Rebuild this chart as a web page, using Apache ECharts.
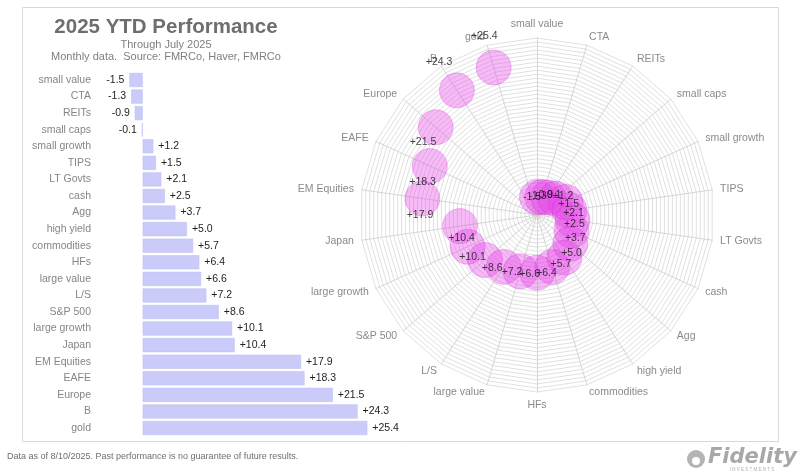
<!DOCTYPE html>
<html>
<head>
<meta charset="utf-8"/>
<title>2025 YTD Performance</title>
<style>
    body { margin: 0; padding: 0; background: #fff; }
    #chart { width: 800px; height: 475px; }
</style>
</head>
<body>
<div id="chart"></div>
<script src="https://cdn.jsdelivr.net/npm/echarts@6/dist/echarts.min.js"></script>
<script>
    // asset classes, same order in the bars (top to bottom) and the web (clockwise from top)
    var categories = ['small value', 'CTA', 'REITs', 'small caps', 'small growth', 'TIPS', 'LT Govts',
        'cash', 'Agg', 'high yield', 'commodities', 'HFs', 'large value', 'L/S', 'S&P 500',
        'large growth', 'Japan', 'EM Equities', 'EAFE', 'Europe', 'B', 'gold'];
    // 2025 YTD total return, %
    var returns = [-1.5, -1.3, -0.9, -0.1, 1.2, 1.5, 2.1, 2.5, 3.7, 5.0, 5.7, 6.4, 6.6, 7.2, 8.6,
        10.1, 10.4, 17.9, 18.3, 21.5, 24.3, 25.4];
    var radialMin = -5, radialMax = 30;

    var FONT = 'Liberation Sans, Arial, sans-serif';
    var webCenter = [537, 215], webRadius = 177;

    function fmt(v) {
        return (v > 0 ? '+' : '') + v.toFixed(1);
    }

    // labels sit a little counter-clockwise of the bubble, the two biggest go outward
    function labelOffset(v, i) {
        var th = i / categories.length * 2 * Math.PI;
        if (v > 24) {
            return [Math.sin(th) * 33, -Math.cos(th) * 33];
        }
        var r = (v - radialMin) / (radialMax - radialMin) * webRadius;
        var d = Math.max(5, 2 + 0.13 * r);
        return [-Math.cos(th) * d, -Math.sin(th) * d];
    }

    // radar lays indicators out counter-clockwise, so feed them reversed after the first
    var indicators = [categories[0]].concat(categories.slice(1).reverse()).map(function (n) {
        return {name: n, min: radialMin, max: radialMax};
    });

    var chart = echarts.init(document.getElementById('chart'));
    var option = {
        backgroundColor: '#fff',
        animation: false,
        textStyle: {fontFamily: FONT},
        graphic: [
            {type: 'rect', shape: {x: 22.5, y: 7.5, width: 756, height: 434},
                style: {fill: null, stroke: '#d9d9d9', lineWidth: 1}},
            {type: 'text', x: 166, y: 27, style: {text: '2025 YTD Performance', fill: '#6e6e6e',
                    font: 'bold 20.5px ' + FONT, align: 'center', verticalAlign: 'middle'}},
            {type: 'text', x: 166, y: 45, style: {text: 'Through July 2025', fill: '#7f7f7f',
                    font: '11px ' + FONT, align: 'center', verticalAlign: 'middle'}},
            {type: 'text', x: 166, y: 57, style: {text: 'Monthly data.  Source: FMRCo, Haver, FMRCo', fill: '#7f7f7f',
                    font: '11px ' + FONT, align: 'center', verticalAlign: 'middle'}},
            {type: 'text', x: 7, y: 457, style: {text: 'Data as of 8/10/2025. Past performance is no guarantee of future results.',
                    fill: '#6e6e6e', font: '9px ' + FONT, verticalAlign: 'middle'}},
            {type: 'circle', shape: {cx: 696, cy: 459, r: 9}, style: {fill: '#b4b4b4'}},
            {type: 'circle', shape: {cx: 696, cy: 461, r: 4}, style: {fill: '#fff'}},
            {type: 'text', x: 708, y: 458, style: {text: 'Fidelity', fill: '#a8a8a8',
                    font: 'italic bold 21px DejaVu Sans, ' + FONT, verticalAlign: 'middle'}},
            {type: 'text', x: 752, y: 470, style: {text: 'I N V E S T M E N T S', fill: '#b0b0b0',
                    font: '4.5px ' + FONT, align: 'center', verticalAlign: 'middle'}}
        ],
        grid: {left: 125, right: 392, top: 71.7, bottom: 38.7, containLabel: false},
        xAxis: {
            type: 'value', min: -2, max: 30, show: false
        },
        yAxis: {
            type: 'category',
            data: categories,
            inverse: true,
            axisLine: {show: false, onZero: false},
            axisTick: {show: false},
            axisLabel: {color: '#858585', fontSize: 10.5, margin: 34}
        },
        radar: {
            center: webCenter,
            radius: webRadius,
            startAngle: 90,
            shape: 'polygon',
            splitNumber: 44,
            indicator: indicators,
            nameGap: 8,
            axisName: {color: '#8a8a8a', fontSize: 10.5, fontFamily: FONT},
            splitArea: {show: false},
            splitLine: {lineStyle: {color: '#d2d2d2', width: 0.7}},
            axisLine: {lineStyle: {color: '#cdcdcd', width: 0.8}},
            axisTick: {show: false},
            axisLabel: {show: false}
        },
        polar: {center: webCenter, radius: webRadius},
        angleAxis: {
            type: 'value', min: 0, max: categories.length, startAngle: 90, clockwise: true,
            axisLine: {show: false}, axisTick: {show: false}, axisLabel: {show: false}, splitLine: {show: false}
        },
        radiusAxis: {
            type: 'value', min: radialMin, max: radialMax,
            axisLine: {show: false}, axisTick: {show: false}, axisLabel: {show: false}, splitLine: {show: false}
        },
        series: [
            {
                type: 'bar',
                barCategoryGap: '15%',
                itemStyle: {color: '#cbcbfa', borderColor: '#bcbcf2', borderWidth: 0.5},
                label: {
                    show: true, color: '#1e1e1e', fontSize: 10.5, distance: 5,
                    formatter: function (p) { return fmt(p.value); }
                },
                data: returns.map(function (v) {
                    return {value: v, label: {position: v < 0 ? 'left' : 'right'}};
                })
            },
            {
                type: 'scatter',
                coordinateSystem: 'polar',
                symbolSize: 35,
                itemStyle: {color: 'rgba(230, 60, 232, 0.44)', borderColor: 'rgba(205, 40, 208, 0.55)', borderWidth: 0.6},
                label: {
                    show: true, position: 'inside', color: '#111', fontSize: 10.5,
                    formatter: function (p) { return fmt(p.value[0]); }
                },
                data: returns.map(function (v, i) {
                    return {value: [v, i], label: {offset: labelOffset(v, i)}};
                })
            }
        ]
    };
    chart.setOption(option);
</script>
</body>
</html>
